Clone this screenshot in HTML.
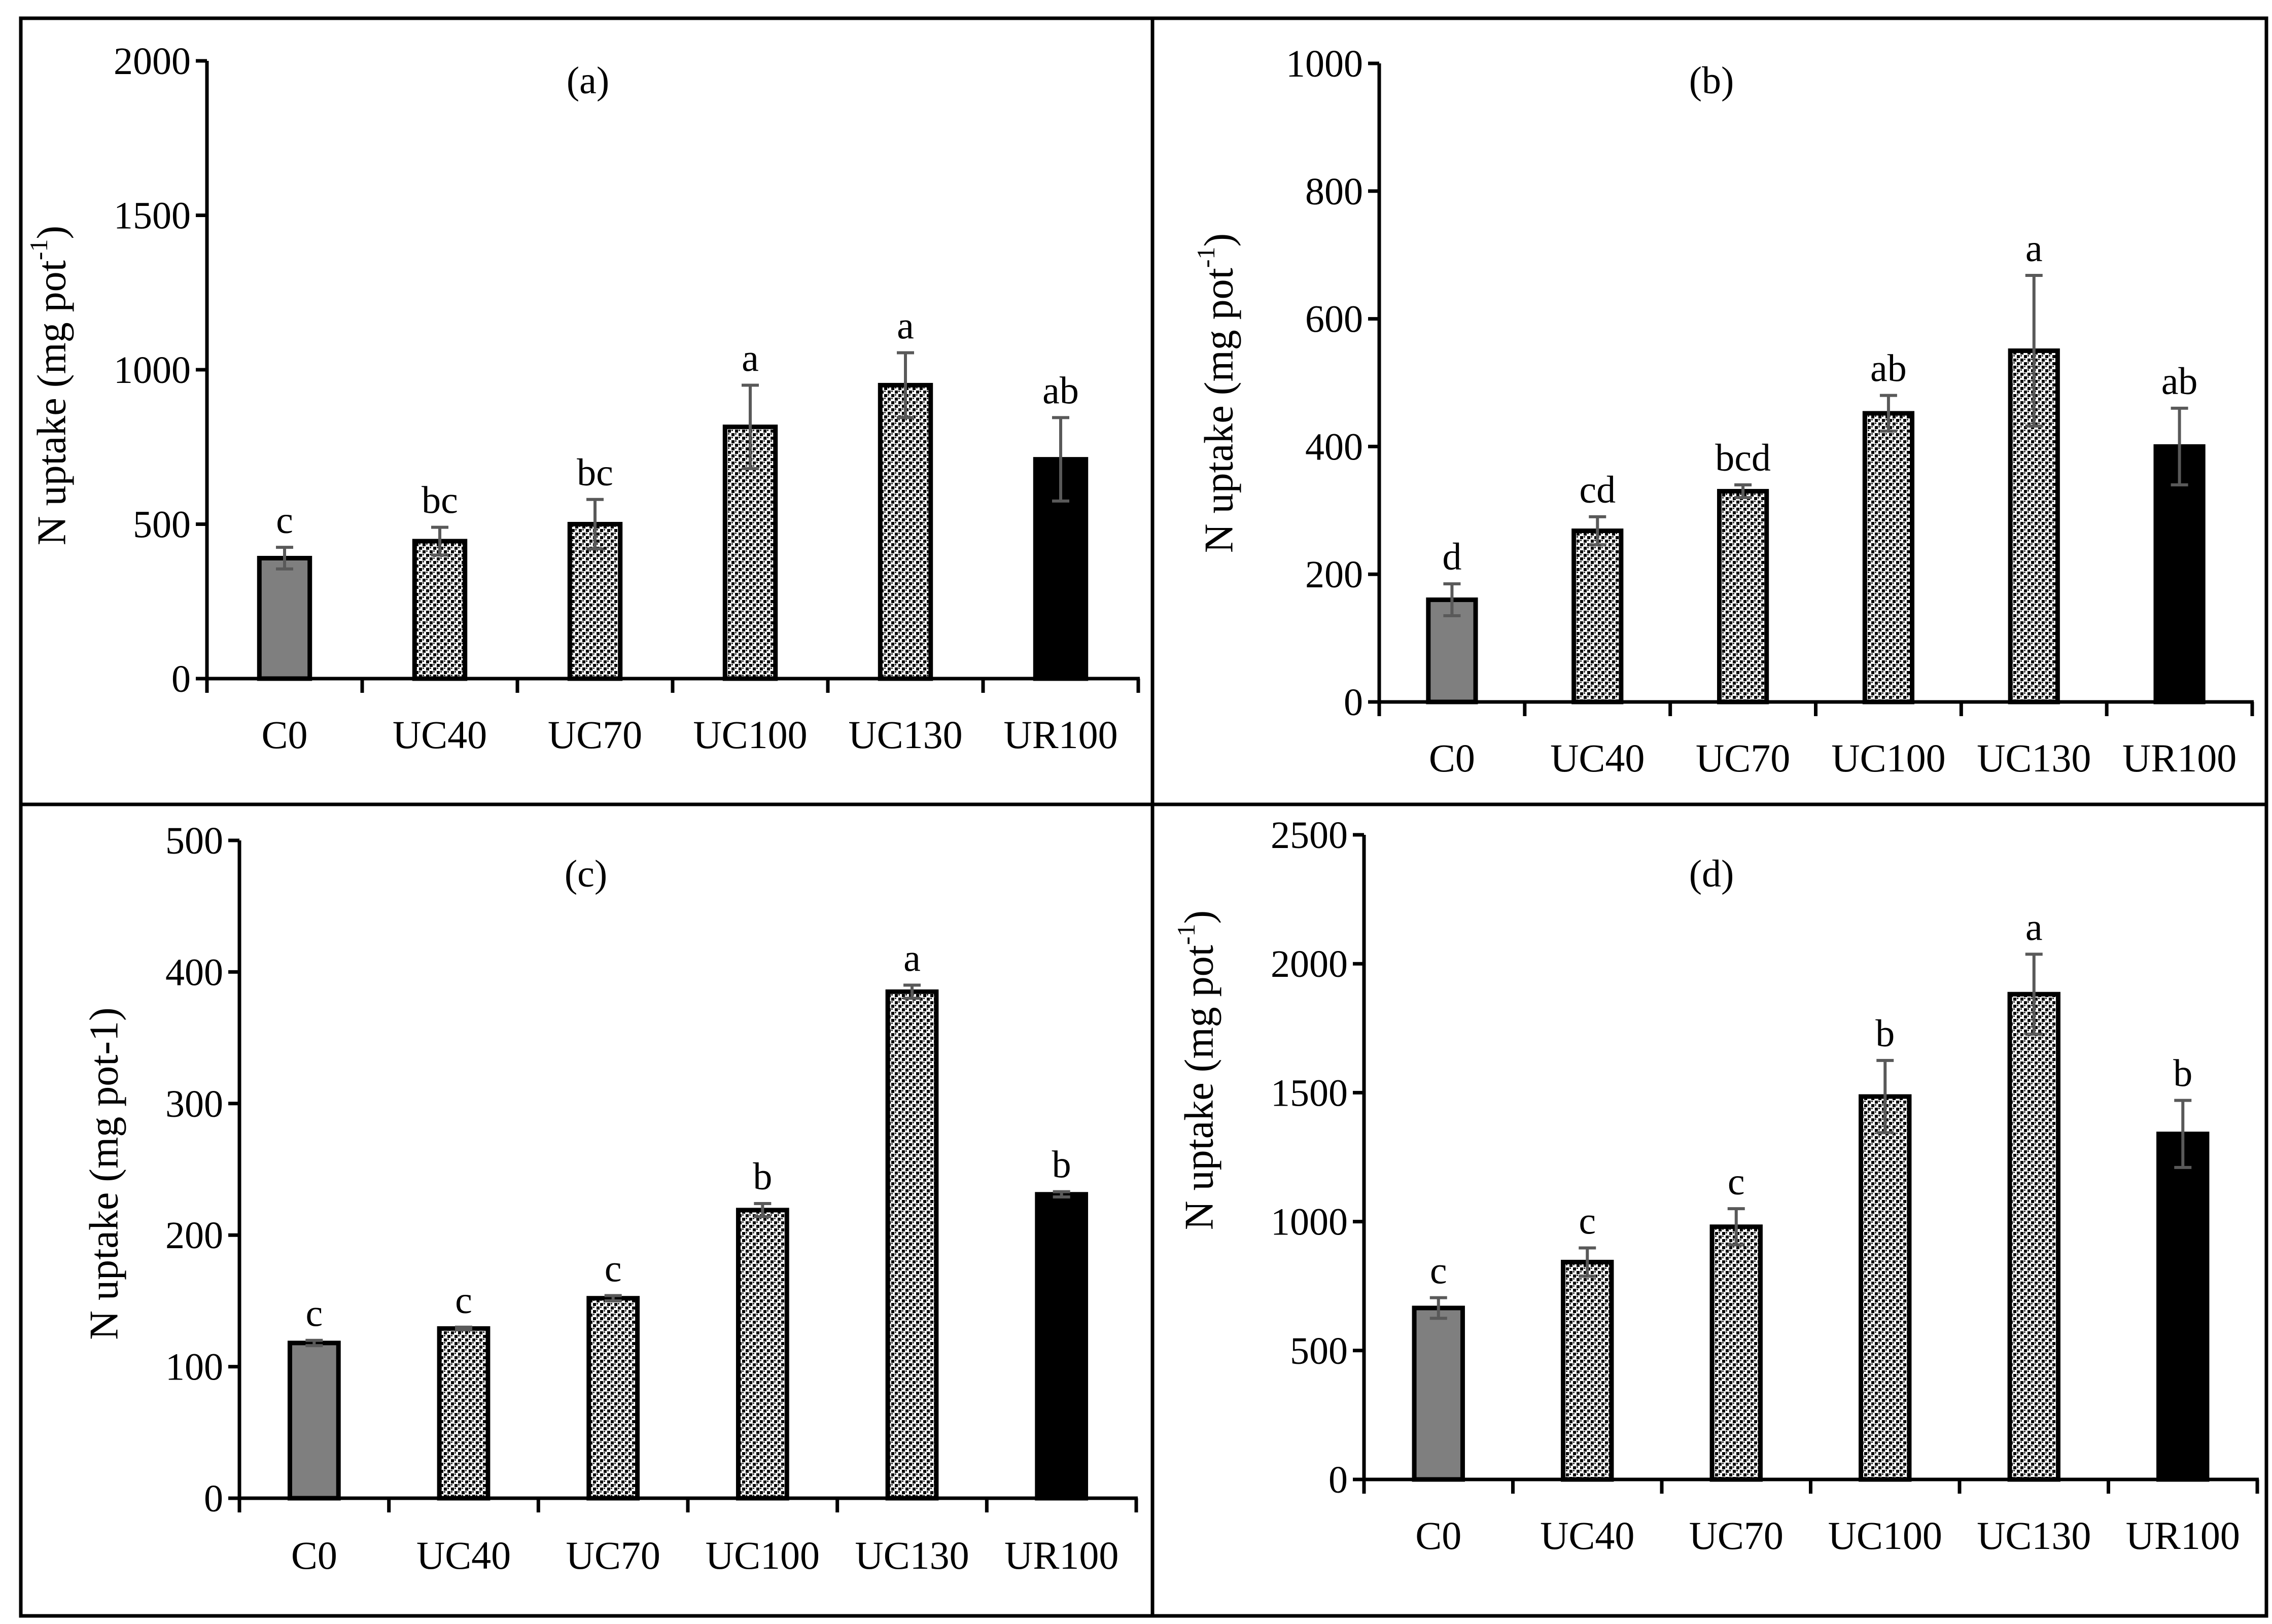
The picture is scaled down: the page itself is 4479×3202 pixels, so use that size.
<!DOCTYPE html>
<html><head><meta charset="utf-8"><style>
html,body{margin:0;padding:0;background:#fff;}
svg{display:block;}
text{font-family:"Liberation Serif",serif;fill:#000;}
</style></head>
<body>
<svg id="chart" width="4479" height="3202" viewBox="0 0 4479 3202" xmlns="http://www.w3.org/2000/svg">
<defs>
<pattern id="dots" width="14" height="14" patternUnits="userSpaceOnUse">
<rect width="14" height="14" fill="#fff"/>
<rect x="0" y="0" width="6" height="6" fill="#000"/>
<rect x="7" y="7" width="6" height="6" fill="#000"/>
<rect x="7" y="0" width="3" height="3" fill="#333"/>
<rect x="0" y="7" width="3" height="3" fill="#333"/>
</pattern>
</defs>
<rect x="41" y="36" width="4427" height="3150" fill="none" stroke="#000" stroke-width="7"/>
<line x1="2272" y1="36" x2="2272" y2="3186" stroke="#000" stroke-width="7"/>
<line x1="41" y1="1586" x2="4468" y2="1586" stroke="#000" stroke-width="7"/>
<g id="plots"></g>
</svg>
<script>
const categories = ["C0","UC40","UC70","UC100","UC130","UR100"];
const valuesA = [390,445,500,815,950,710];
const errorsA = [35,45,80,135,105,135];
const lettersA = ["c","bc","bc","a","a","ab"];
const ticksA = [0,500,1000,1500,2000];
const valuesB = [160,268,330,452,550,400];
const errorsB = [25,22,10,28,118,60];
const lettersB = ["d","cd","bcd","ab","a","ab"];
const ticksB = [0,200,400,600,800,1000];
const valuesC = [118,129,152,219,385,231];
const errorsC = [2,1,2,5,5,2];
const lettersC = ["c","c","c","b","a","b"];
const ticksC = [0,100,200,300,400,500];
const valuesD = [665,843,980,1485,1882,1340];
const errorsD = [40,55,70,140,155,130];
const lettersD = ["c","c","c","b","a","b"];
const ticksD = [0,500,1000,1500,2000,2500];
const yTitleSup = "N uptake (mg pot";

const NS = "http://www.w3.org/2000/svg";
const root = document.getElementById("plots");
function mk(tag, attrs, parent){
  const e = document.createElementNS(NS, tag);
  for (const k in attrs) e.setAttribute(k, attrs[k]);
  parent.appendChild(e);
  return e;
}
const panels = [
  {id:"a", vals:valuesA, errs:errorsA, lets:lettersA, ticks:ticksA, x0:408, x1:2244, y0:1338, yTop:120, tx:1159, ty:158, lx:110, ly:760, cy:1448, sup:true},
  {id:"b", vals:valuesB, errs:errorsB, lets:lettersB, ticks:ticksB, x0:2719, x1:4440, y0:1384, yTop:125, tx:3374, ty:158, lx:2411, ly:775, cy:1494, sup:true},
  {id:"c", vals:valuesC, errs:errorsC, lets:lettersC, ticks:ticksC, x0:472, x1:2240, y0:2954, yTop:1657, tx:1155, ty:1722, lx:213, ly:2314, cy:3066, sup:false},
  {id:"d", vals:valuesD, errs:errorsD, lets:lettersD, ticks:ticksD, x0:2689, x1:4450, y0:2917, yTop:1646, tx:3374, ty:1722, lx:2372, ly:2110, cy:3027, sup:true}
];
panels.forEach(p => {
  const g = mk("g", {}, root);
  
  
  const maxV = p.ticks[p.ticks.length-1];
  const yS = v => p.y0 - (v / maxV) * (p.y0 - p.yTop);
  const step = (p.x1 - p.x0) / categories.length;
  const xC = i => p.x0 + step * (i + 0.5);
  const bw = step * 0.325;
  const t = mk("text", {x:p.tx, y:p.ty + 26, "font-size":76, "text-anchor":"middle"}, g);
  t.textContent = "(" + p.id + ")";
  
  
  const yt = mk("text", {x:0, y:0, "font-size":80, "text-anchor":"middle", "dominant-baseline":"middle", transform:"translate(" + p.lx + "," + p.ly + ") rotate(-90)"}, g);
  
  
  if (p.sup) {
    yt.appendChild(document.createTextNode(yTitleSup));
    const s = mk("tspan", {"font-size":50, dy:-28}, yt);
    s.textContent = "-1";
    const e2 = mk("tspan", {dy:28}, yt);
    e2.textContent = ")";
  } else {
    yt.textContent = "N uptake (mg pot-1)";
  }
  p.vals.forEach((v, i) => {
    const fill = i === 0 ? "#7f7f7f" : (i === categories.length - 1 ? "#000" : "url(#dots)");
    const r = mk("rect", {x:xC(i) - bw/2, y:yS(v), width:bw, height:p.y0 - yS(v), fill:fill, stroke:"#000", "stroke-width":9}, g);
    
    
    const e = p.errs[i];
    const eg = mk("g", {stroke:"#595959", "stroke-width":6}, g);
    
    
    mk("line", {x1:xC(i), x2:xC(i), y1:yS(v + e), y2:yS(v - e)}, eg);
    mk("line", {x1:xC(i) - 17, x2:xC(i) + 17, y1:yS(v + e), y2:yS(v + e)}, eg);
    mk("line", {x1:xC(i) - 17, x2:xC(i) + 17, y1:yS(v - e), y2:yS(v - e)}, eg);
    const lt = mk("text", {x:xC(i), y:yS(v + e) - 28, "font-size":76, "text-anchor":"middle"}, g);
    lt.textContent = p.lets[i];
    
    
    const cl = mk("text", {x:xC(i), y:p.cy + 27, "font-size":78, "text-anchor":"middle"}, g);
    cl.textContent = categories[i];
    
    
  });
  const ax = mk("g", {stroke:"#000", "stroke-width":7}, g);
  
  
  mk("line", {x1:p.x0, x2:p.x0, y1:p.yTop, y2:p.y0 + 3}, ax);
  mk("line", {x1:p.x0 - 3, x2:p.x1 + 3, y1:p.y0, y2:p.y0}, ax);
  for (let i = 0; i <= categories.length; i++) {
    mk("line", {x1:p.x0 + step*i, x2:p.x0 + step*i, y1:p.y0, y2:p.y0 + 28}, ax);
  }
  p.ticks.forEach(tv => {
    mk("line", {x1:p.x0 - 22, x2:p.x0, y1:yS(tv), y2:yS(tv)}, ax);
    const tl = mk("text", {x:p.x0 - 32, y:yS(tv) + 26, "font-size":76, "text-anchor":"end"}, g);
    tl.textContent = tv;
    
    
  });
});
</script>
</body></html>
